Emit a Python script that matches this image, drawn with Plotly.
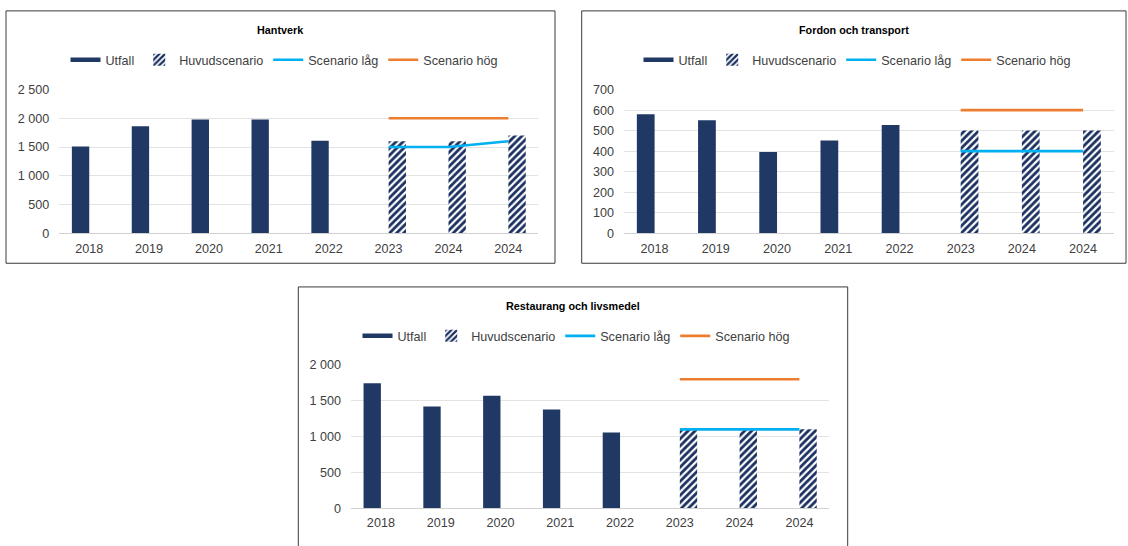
import plotly.graph_objects as go

W, H = 1128, 546

# ---------------- data ----------------
x_labels = ["2018", "2019", "2020", "2021", "2022", "2023", "2024", "2024"]
utfall_pos = [0, 1, 2, 3, 4]
scenario_pos = [5, 6, 7]

titles = ["Hantverk", "Fordon och transport", "Restaurang och livsmedel"]

hantverk_utfall = [1510, 1860, 1980, 1980, 1610]
hantverk_huvud = [1600, 1600, 1700]
hantverk_lag = [1500, 1500, 1600]
hantverk_hog = [2000, 2000, 2000]

fordon_utfall = [580, 550, 396, 452, 527]
fordon_huvud = [500, 500, 500]
fordon_lag = [400, 400, 400]
fordon_hog = [600, 600, 600]

rest_utfall = [1745, 1420, 1570, 1378, 1055]
rest_huvud = [1100, 1100, 1100]
rest_lag = [1100, 1100, 1100]
rest_hog = [1800, 1800, 1800]

y_max = [2500, 700, 2000]
y_step = [500, 100, 500]

series_names = ["Utfall", "Huvudscenario", "Scenario låg", "Scenario hög"]

panels = [
    (hantverk_utfall, hantverk_huvud, hantverk_lag, hantverk_hog),
    (fordon_utfall, fordon_huvud, fordon_lag, fordon_hog),
    (rest_utfall, rest_huvud, rest_lag, rest_hog),
]

# ---------------- style / geometry (pixels) ----------------
NAVY = "#1F3864"
HATCH = "#1A3060"
BLUE = "#00B0F0"
ORANGE = "#ED7D31"
TXT = "#404040"
FONT = "Liberation Sans, Arial, sans-serif"
BAR_W = 0.29

# plot areas: (x0, x1, ytop, ybottom)
plot_px = [(59.3, 538.3, 84.7, 232.3), (624.0, 1113.7, 84.7, 232.3), (351.0, 829.3, 367.3, 514.3)]
# boxes: (x0, x1, ytop, ybottom)
box_px = [(6, 555, 4, 263), (581.7, 1126, 4, 263), (298.3, 847.7, 287.3, 600)]
title_y_px = [24, 24, 307]
legend_y_px = [54.5, 54.5, 337.8]
legend_x_px = [284, 857, 576]


def px_x(v):
    return v / W


def px_y(v):
    return 1 - v / H


fig = go.Figure()
layout = dict(
    width=W, height=H,
    margin=dict(l=0, r=0, t=0, b=0),
    paper_bgcolor="white", plot_bgcolor="white",
    barmode="overlay",
    separators=", ",
    showlegend=True,
    font=dict(family=FONT, color=TXT, size=12.6),
)
shapes = []
annotations = []

for i, (ut, hu, lo, hi) in enumerate(panels):
    n = "" if i == 0 else str(i + 1)
    xa, ya = "x" + n, "y" + n
    lg = "legend" + n

    fig.add_trace(go.Scatter(x=[None], y=[None], mode="lines", name=series_names[0],
                             line=dict(color=NAVY, width=4.5), xaxis=xa, yaxis=ya, legend=lg,
                             hoverinfo="skip"))
    fig.add_trace(go.Bar(x=utfall_pos, y=ut, name=series_names[0], width=BAR_W, offset=-BAR_W,
                         marker=dict(color=NAVY, line=dict(width=0), opacity=1),
                         showlegend=False, xaxis=xa, yaxis=ya, legend=lg))
    fig.add_trace(go.Bar(x=scenario_pos, y=hu, name=series_names[1], width=BAR_W, offset=0,
                         marker=dict(color="white", line=dict(width=0), opacity=1,
                                     pattern=dict(shape="/", fgcolor=HATCH, bgcolor="white",
                                                  fgopacity=1, size=5, solidity=0.55)),
                         xaxis=xa, yaxis=ya, legend=lg))
    fig.add_trace(go.Scatter(x=scenario_pos, y=lo, name=series_names[2], mode="lines",
                             line=dict(color=BLUE, width=2.6), xaxis=xa, yaxis=ya, legend=lg))
    fig.add_trace(go.Scatter(x=scenario_pos, y=hi, name=series_names[3], mode="lines",
                             line=dict(color=ORANGE, width=2.6), xaxis=xa, yaxis=ya, legend=lg))

    x0, x1, yt, yb = plot_px[i]
    layout["xaxis" + n] = dict(
        domain=[px_x(x0), px_x(x1)], anchor=ya, range=[-0.5, 7.5],
        tickmode="array", tickvals=list(range(8)), ticktext=x_labels,
        showgrid=False, zeroline=False, showline=True, linecolor="#D0D0D0", linewidth=1.2,
        ticks="", tickfont=dict(size=12.6, color=TXT, family=FONT), ticklabelstandoff=3,
        fixedrange=True,
    )
    layout["yaxis" + n] = dict(
        domain=[px_y(yb), px_y(yt)], anchor=xa, range=[0, y_max[i]],
        tickmode="linear", tick0=0, dtick=y_step[i], tickformat=",d",
        showgrid=True, gridcolor="#E3E3E3", gridwidth=1, zeroline=False, showline=False,
        ticks="", tickfont=dict(size=12.6, color=TXT, family=FONT), ticklabelstandoff=9,
        fixedrange=True,
    )
    layout[lg] = dict(
        orientation="h", x=px_x(legend_x_px[i]), xanchor="center",
        y=px_y(legend_y_px[i]), yanchor="middle",
        bgcolor="rgba(0,0,0,0)", font=dict(size=12.6, color=TXT, family=FONT),
        traceorder="normal",
    )

    bx0, bx1, byt, byb = box_px[i]
    shapes.append(dict(type="rect", xref="paper", yref="paper",
                       x0=px_x(bx0), x1=px_x(bx1), y0=px_y(byb), y1=px_y(byt),
                       line=dict(color="#3A3A3A", width=1), fillcolor="rgba(0,0,0,0)", layer="above"))
    annotations.append(dict(text="<b>" + titles[i] + "</b>", xref="paper", yref="paper",
                            x=px_x((bx0 + bx1) / 2), y=px_y(title_y_px[i]),
                            xanchor="center", yanchor="middle", showarrow=False,
                            font=dict(size=10.8, color="black", family=FONT)))

layout["shapes"] = shapes
layout["annotations"] = annotations
fig.update_layout(**layout)

fig.write_html("out.html",
               config={"displayModeBar": False},
               post_script="document.body.style.margin='0px';document.body.style.overflow='hidden';")
